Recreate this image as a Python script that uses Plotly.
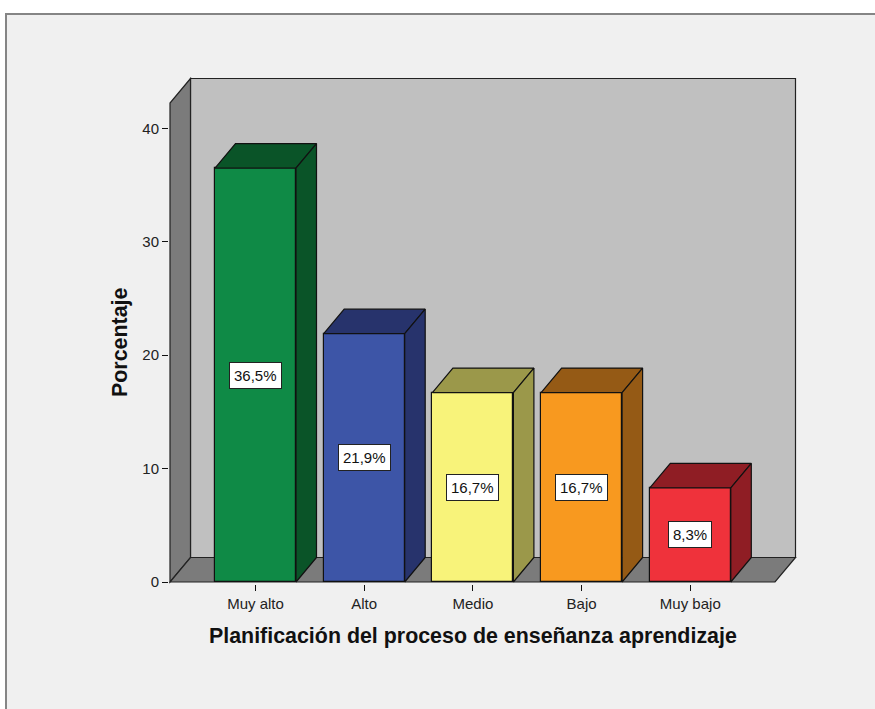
import plotly.graph_objects as go

# ---- data ----
categories = ["Muy alto", "Alto", "Medio", "Bajo", "Muy bajo"]
values = [36.5, 21.9, 16.7, 16.7, 8.3]
value_labels = [f"{v:.1f}".replace(".", ",") + "%" for v in values]
y_ticks = [0, 10, 20, 30, 40]

# ---- styles ----
front_colors = ["#0f8a46", "#3d55a7", "#f8f37a", "#f8991f", "#ef323b"]
dark_colors = ["#0a5428", "#27336c", "#9b984a", "#955a15", "#8f1d24"]

# ---- geometry (pixel mapping) ----
W, H = 875, 709
U = 108.7      # px per category
K = 11.34      # px per percent
C0 = 255.5     # pixel x of first category
Y0 = 582.0     # pixel y of value 0
L, R, T, B = 169, 798, 76, 584
bar_w = 81 / U
DX = 20.5 / U
DY = 24.5 / K
xF0 = (170 - C0) / U
xF1 = (775 - C0) / U
yTopF = (Y0 - 103) / K

xr = [(L - C0) / U, (R - C0) / U]
yr = [(Y0 - B) / K, (Y0 - T) / K]


def pxx(p):
    return (p - L) / (R - L)


def pxy(p):
    return (B - p) / (B - T)


def path(pts):
    return "M " + " L ".join(f"{x},{y}" for x, y in pts) + " Z"


fig = go.Figure()

shapes = []
# outer frame
shapes.append(dict(type="rect", xref="paper", yref="paper", layer="below",
                   x0=pxx(6), x1=pxx(900), y0=pxy(720), y1=pxy(14),
                   fillcolor="#f0f0f0", line=dict(color="#858585", width=2)))
# back wall
shapes.append(dict(type="path", xref="x", yref="y", layer="below",
                   path=path([(xF0 + DX, DY), (xF1 + DX, DY), (xF1 + DX, yTopF + DY), (xF0 + DX, yTopF + DY)]),
                   fillcolor="#c0c0c0", line=dict(color="#222", width=1.2)))
# side wall
shapes.append(dict(type="path", xref="x", yref="y", layer="below",
                   path=path([(xF0, 0), (xF0, yTopF), (xF0 + DX, yTopF + DY), (xF0 + DX, DY)]),
                   fillcolor="#7b7b7b", line=dict(color="#222", width=1.2)))
# floor
shapes.append(dict(type="path", xref="x", yref="y", layer="below",
                   path=path([(xF0, 0), (xF1, 0), (xF1 + DX, DY), (xF0 + DX, DY)]),
                   fillcolor="#7b7b7b", line=dict(color="#222", width=1.2)))

# front faces as bars
fig.add_trace(go.Bar(x=list(range(len(categories))), y=values, width=bar_w,
                     marker=dict(color=front_colors, line=dict(color="#111", width=1.2)),
                     hoverinfo="skip", showlegend=False))

# top and side faces
for i, v in enumerate(values):
    xl, xrr = i - bar_w / 2, i + bar_w / 2
    top = [(xl, v), (xrr, v), (xrr + DX, v + DY), (xl + DX, v + DY), (xl, v)]
    side = [(xrr, 0), (xrr, v), (xrr + DX, v + DY), (xrr + DX, DY), (xrr, 0)]
    for poly in (top, side):
        fig.add_trace(go.Scatter(x=[p[0] for p in poly], y=[p[1] for p in poly],
                                 mode="lines", fill="toself", fillcolor=dark_colors[i],
                                 line=dict(color="#111", width=1.2),
                                 hoverinfo="skip", showlegend=False))

annotations = []
for i, (v, lab) in enumerate(zip(values, value_labels)):
    annotations.append(dict(x=i, y=v / 2, xref="x", yref="y", text=lab, showarrow=False,
                            bgcolor="white", bordercolor="#222", borderwidth=1, borderpad=4,
                            font=dict(family="Liberation Sans, Arial", size=15, color="#111")))

annotations.append(dict(x=pxx(473), y=pxy(636), xref="paper", yref="paper",
                        text="<b>Planificación del proceso de enseñanza aprendizaje</b>",
                        showarrow=False, xanchor="center", yanchor="middle",
                        font=dict(family="Liberation Sans, Arial", size=21.4, color="#111")))
annotations.append(dict(x=pxx(120), y=pxy(343), xref="paper", yref="paper",
                        text="<b>Porcentaje</b>", textangle=-90,
                        showarrow=False, xanchor="center", yanchor="middle",
                        font=dict(family="Liberation Sans, Arial", size=21.4, color="#111")))

fig.update_layout(
    width=W, height=H,
    margin=dict(l=L, r=W - R, t=T, b=H - B, pad=0),
    paper_bgcolor="white", plot_bgcolor="rgba(0,0,0,0)",
    shapes=shapes, annotations=annotations, bargap=0,
    xaxis=dict(range=xr, tickvals=list(range(len(categories))), ticktext=categories,
               showgrid=False, zeroline=False, showline=False,
               ticks="outside", ticklen=6, tickwidth=1.2, tickcolor="#111",
               tickfont=dict(family="Liberation Sans, Arial", size=15, color="#222"), fixedrange=True),
    yaxis=dict(range=yr, tickvals=y_ticks, showgrid=False, zeroline=False, showline=False,
               ticks="outside", ticklen=6, tickwidth=1.2, tickcolor="#111",
               tickfont=dict(family="Liberation Sans, Arial", size=15, color="#222"), fixedrange=True),
)

fig.write_html("out.html", config={"displayModeBar": False},
               post_script="document.body.style.margin='0';document.body.style.overflow='hidden';")
